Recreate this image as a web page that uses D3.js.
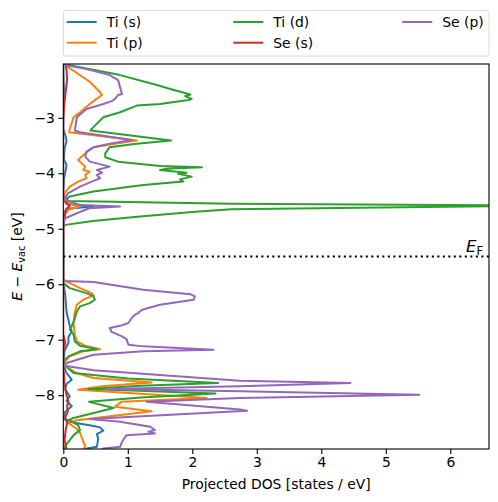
<!DOCTYPE html>
<html><head><meta charset="utf-8">
<script src="https://cdn.jsdelivr.net/npm/d3@7"></script>
<style>body{margin:0;background:#fff;} text{font-family:"DejaVu Sans",sans-serif;}</style>
</head><body><svg id="c" width="498" height="502"></svg>
<script>
// ---- data: [energy (eV), projected DOS (states/eV)] ----
const energyTicks = [-8, -7, -6, -5, -4, -3];
const dosTicks = [0, 1, 2, 3, 4, 5, 6];
const seriesNames = ["Ti (s)", "Ti (p)", "Ti (d)", "Se (s)", "Se (p)"];
const seriesColors = ["#1f77b4", "#ff7f0e", "#2ca02c", "#d62728", "#9467bd"];
const fermiLevel = -5.5;

const tiS = [[-2.0,0.0],[-2.5,0.01],[-3.2,0.0],[-3.35,0.04],[-3.42,0.05],[-3.55,0.02],[-3.75,0.01],[-3.85,0.05],[-3.92,0.04],[-4.1,0.01],[-4.4,0.0],[-4.55,0.05],[-4.6,0.47],[-4.64,0.05],[-4.75,0.0],
  [-5.95,0.0],[-6.2,0.03],[-6.5,0.05],[-6.75,0.1],[-6.85,0.13],[-6.95,0.08],[-7.05,0.08],[-7.2,0.02],[-7.45,0.0],[-7.6,0.05],[-7.72,0.13],[-7.8,0.05],[-7.9,0.03],[-8.02,0.1],[-8.1,0.05],[-8.2,0.13],[-8.3,0.03],[-8.43,0.0],[-8.5,0.2],[-8.55,0.45],[-8.58,0.57],[-8.64,0.62],[-8.7,0.52],[-8.78,0.54],[-8.87,0.53],[-8.93,0.52],[-8.96,0.36],[-9.0,0.35]];

const tiP = [[-2.0,0.0],[-2.05,0.03],[-2.17,0.18],[-2.35,0.41],[-2.54,0.57],[-2.59,0.6],[-2.7,0.47],[-2.75,0.41],[-2.9,0.26],[-2.99,0.16],[-3.2,0.1],[-3.26,0.09],[-3.41,1.14],[-3.47,0.8],[-3.53,0.47],[-3.67,0.31],[-3.76,0.23],[-3.88,0.34],[-3.94,0.31],[-3.97,0.41],[-4.03,0.34],[-4.09,0.36],[-4.15,0.23],[-4.24,0.1],[-4.36,0.02],[-4.5,0.02],[-4.57,0.15],[-4.6,0.25],[-4.65,0.1],[-4.75,0.0],
  [-5.9,0.0],[-5.94,0.03],[-6.07,0.26],[-6.16,0.44],[-6.2,0.47],[-6.28,0.31],[-6.37,0.21],[-6.55,0.17],[-6.73,0.16],[-6.91,0.18],[-7.03,0.21],[-7.11,0.34],[-7.17,0.57],[-7.21,0.31],[-7.3,0.1],[-7.39,0.03],[-7.45,0.0],[-7.6,0.2],[-7.69,0.47],[-7.77,1.37],[-7.84,0.6],[-7.9,0.23],[-8.05,2.22],[-8.12,0.9],[-8.21,0.8],[-8.29,1.37],[-8.45,0.21],[-8.5,0.08],[-8.6,0.2],[-8.68,0.26],[-8.8,0.3],[-8.92,0.34],[-9.0,0.3]];

const tiD = [[-2.0,0.05],[-2.05,0.1],[-2.23,0.88],[-2.41,1.45],[-2.48,1.66],[-2.58,1.97],[-2.61,1.89],[-2.66,1.99],[-2.68,1.94],[-2.75,1.5],[-2.78,1.14],[-2.9,0.88],[-2.99,0.62],[-3.2,0.44],[-3.23,0.42],[-3.41,1.67],[-3.47,1.1],[-3.53,0.72],[-3.64,0.65],[-3.71,0.65],[-3.79,0.85],[-3.87,1.5],[-3.89,2.15],[-3.92,1.6],[-3.94,1.5],[-3.99,1.91],[-4.01,1.78],[-4.06,1.99],[-4.11,1.81],[-4.15,1.86],[-4.21,1.24],[-4.33,0.47],[-4.42,0.1],[-4.48,0.03],[-4.5,0.1],[-4.55,2.6],[-4.575,6.6],[-4.585,9.0],[-4.595,6.6],[-4.65,2.6],[-4.7,2.0],[-4.78,1.19],[-4.86,0.46],[-4.93,0.03],[-4.97,0.0],
  [-5.9,0.0],[-5.98,0.0],[-6.07,0.1],[-6.16,0.36],[-6.22,0.47],[-6.28,0.49],[-6.34,0.41],[-6.4,0.26],[-6.49,0.21],[-6.61,0.18],[-6.76,0.13],[-6.82,0.1],[-6.91,0.16],[-7.03,0.18],[-7.11,0.26],[-7.17,0.52],[-7.21,0.26],[-7.3,0.08],[-7.39,0.0],[-7.46,0.02],[-7.6,0.16],[-7.7,1.0],[-7.78,2.4],[-7.83,1.2],[-7.89,0.39],[-7.97,2.36],[-8.04,1.2],[-8.12,0.4],[-8.23,0.78],[-8.41,0.16],[-8.45,0.08],[-8.54,0.23],[-8.63,0.26],[-8.72,0.16],[-8.84,0.08],[-8.96,0.0],[-9.0,0.0]];

const seS = [[-2.0,0.03],[-2.15,0.05],[-2.3,0.06],[-2.5,0.04],[-2.7,0.02],[-3.0,0.0],[-4.4,0.0],[-4.52,0.03],[-4.59,0.1],[-4.65,0.04],[-4.8,0.02],[-4.95,0.0],
  [-5.95,0.0],[-6.9,0.0],[-7.05,0.03],[-7.2,0.0],[-7.45,0.0],[-7.8,0.02],[-8.0,0.05],[-8.1,0.08],[-8.2,0.06],[-8.3,0.07],[-8.4,0.03],[-8.5,0.06],[-8.6,0.04],[-8.8,0.02],[-9.0,0.05]];

const seP = [[-2.0,0.0],[-2.05,0.03],[-2.12,0.36],[-2.23,0.72],[-2.32,0.85],[-2.45,0.88],[-2.57,0.91],[-2.59,0.85],[-2.66,0.8],[-2.7,0.75],[-2.75,0.62],[-2.84,0.36],[-2.99,0.21],[-3.23,0.18],[-3.26,0.26],[-3.4,1.06],[-3.47,0.7],[-3.53,0.47],[-3.61,0.36],[-3.7,0.34],[-3.79,0.41],[-3.88,0.72],[-3.94,0.52],[-3.99,0.6],[-4.03,0.52],[-4.09,0.57],[-4.15,0.44],[-4.24,0.26],[-4.36,0.07],[-4.48,0.02],[-4.57,0.26],[-4.6,0.88],[-4.63,0.4],[-4.72,0.21],[-4.81,0.03],[-4.9,0.0],
  [-5.9,0.0],[-5.94,0.03],[-5.96,0.47],[-6.1,1.24],[-6.18,1.97],[-6.22,2.04],[-6.28,2.02],[-6.37,1.5],[-6.46,1.22],[-6.52,1.16],[-6.55,1.11],[-6.61,1.06],[-6.7,1.01],[-6.75,0.88],[-6.79,0.72],[-6.86,0.75],[-6.94,0.91],[-6.99,0.98],[-7.09,1.01],[-7.12,1.24],[-7.18,2.33],[-7.21,1.24],[-7.27,0.47],[-7.42,0.05],[-7.47,0.02],[-7.55,0.47],[-7.74,2.74],[-7.78,4.45],[-7.84,2.74],[-7.89,0.67],[-7.93,2.74],[-7.99,5.52],[-8.05,2.74],[-8.12,1.29],[-8.26,2.74],[-8.28,2.85],[-8.43,0.41],[-8.48,0.88],[-8.57,1.35],[-8.63,1.42],[-8.66,1.32],[-8.69,1.42],[-8.72,0.98],[-8.84,0.91],[-8.93,0.88],[-8.96,0.62],[-9.0,0.6]];

const seriesData = [tiS, tiP, tiD, seS, seP];

// ---- layout ----
const W = 498, H = 502;
const L = 63.3, R = 489, T = 64, B = 449;
const svg = d3.select("#c");
svg.append("rect").attr("width", W).attr("height", H).attr("fill", "#fff");

const x = d3.scaleLinear().domain([0, 6.6]).range([L, R]);
const y = d3.scaleLinear().domain([-8.97, -2.03]).range([B, T]);

svg.append("clipPath").attr("id", "clip").append("rect")
  .attr("x", L).attr("y", T).attr("width", R - L).attr("height", B - T);

const line = d3.line().x(d => x(d[1])).y(d => y(d[0]));
const g = svg.append("g").attr("clip-path", "url(#clip)");
seriesData.forEach((s, i) => {
  g.append("path").datum(s).attr("d", line)
    .attr("fill", "none").attr("stroke", seriesColors[i])
    .attr("stroke-width", 2).attr("stroke-linejoin", "round");
});

// Fermi level
g.append("line").attr("x1", L).attr("x2", R)
  .attr("y1", y(fermiLevel)).attr("y2", y(fermiLevel))
  .attr("stroke", "#000").attr("stroke-width", 2).attr("stroke-dasharray", "2.1,3.4");

const ef = svg.append("text").attr("x", 483).attr("y", y(fermiLevel) - 4.5)
  .attr("text-anchor", "end").attr("font-size", 16.5);
ef.append("tspan").attr("font-style", "italic").text("E");
ef.append("tspan").attr("font-size", 11.5).attr("dy", 2.5).text("F");

// axes
const fs = 13.9;
const xAxis = svg.append("g").attr("transform", `translate(0,${B})`)
  .call(d3.axisBottom(x).tickValues(dosTicks).tickSize(4.9).tickPadding(3.5).tickFormat(d3.format("d")));
const yAxis = svg.append("g").attr("transform", `translate(${L},0)`)
  .call(d3.axisLeft(y).tickValues(energyTicks).tickSize(4.9).tickPadding(3.5).tickFormat(d3.format("d")));
[xAxis, yAxis].forEach(a => {
  a.select(".domain").remove();
  a.selectAll(".tick line").attr("stroke", "#000").attr("stroke-width", 1.1);
  a.selectAll(".tick text").attr("font-size", fs).attr("fill", "#000")
    .attr("font-family", "DejaVu Sans");
});

// spines
svg.append("rect").attr("x", L).attr("y", T).attr("width", R - L).attr("height", B - T)
  .attr("fill", "none").attr("stroke", "#000").attr("stroke-width", 1.1);

// axis labels
svg.append("text").attr("x", (L + R) / 2).attr("y", 489).attr("text-anchor", "middle")
  .attr("font-size", fs).text("Projected DOS [states / eV]");
const yl = svg.append("text").attr("transform", `translate(22,${(T + B) / 2}) rotate(-90)`)
  .attr("text-anchor", "middle").attr("font-size", fs);
yl.append("tspan").attr("font-style", "italic").text("E");
yl.append("tspan").text(" − ");
yl.append("tspan").attr("font-style", "italic").text("E");
yl.append("tspan").attr("font-size", 9.7).attr("dy", 2.5).text("vac");
yl.append("tspan").attr("dy", -2.5).text(" [eV]");

// legend
const leg = svg.append("g");
leg.append("rect").attr("x", 63.3).attr("y", 10.5).attr("width", 425.7).attr("height", 45.5)
  .attr("rx", 2.5).attr("fill", "#fff").attr("fill-opacity", 0.8)
  .attr("stroke", "#d9d9d9").attr("stroke-width", 1);
const colX = [66.7, 233.3, 402.3];
const rowY = [22, 42.7];
seriesNames.forEach((n, i) => {
  const cx = colX[Math.floor(i / 2)], cy = rowY[i % 2];
  leg.append("line").attr("x1", cx).attr("x2", cx + 30).attr("y1", cy).attr("y2", cy)
    .attr("stroke", seriesColors[i]).attr("stroke-width", 2);
  leg.append("text").attr("x", cx + 40).attr("y", cy + 5).attr("font-size", fs).text(n);
});
</script></body></html>
